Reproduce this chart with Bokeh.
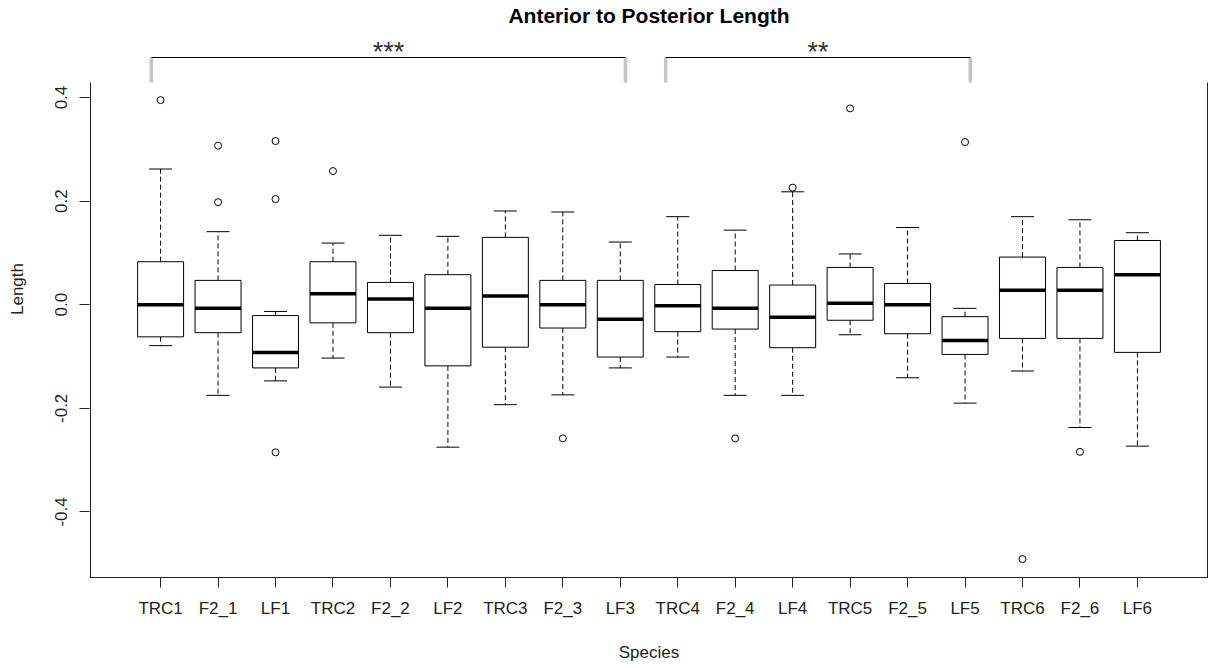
from bokeh.plotting import figure
from bokeh.models import Range1d, FixedTicker
from bokeh.core.properties import value
from bokeh.embed import file_html
from bokeh.resources import INLINE

# ---- data ----
categories = ["TRC1", "F2_1", "LF1", "TRC2", "F2_2", "LF2", "TRC3", "F2_3", "LF3",
              "TRC4", "F2_4", "LF4", "TRC5", "F2_5", "LF5", "TRC6", "F2_6", "LF6"]
whisker_low = [-0.079, -0.175, -0.147, -0.103, -0.159, -0.275, -0.193, -0.174, -0.122,
               -0.101, -0.175, -0.175, -0.058, -0.141, -0.190, -0.128, -0.237, -0.273]
q1 = [-0.062, -0.054, -0.122, -0.035, -0.054, -0.118, -0.082, -0.045, -0.101,
      -0.052, -0.047, -0.083, -0.030, -0.056, -0.096, -0.065, -0.065, -0.092]
medians = [0.000, -0.007, -0.092, 0.021, 0.011, -0.007, 0.017, 0.000, -0.028,
           -0.002, -0.007, -0.024, 0.003, 0.000, -0.069, 0.028, 0.028, 0.058]
q3 = [0.083, 0.047, -0.021, 0.083, 0.043, 0.058, 0.130, 0.047, 0.047,
      0.039, 0.066, 0.038, 0.072, 0.041, -0.023, 0.092, 0.072, 0.124]
whisker_high = [0.262, 0.141, -0.013, 0.119, 0.134, 0.132, 0.181, 0.179, 0.121,
                0.170, 0.144, 0.218, 0.098, 0.149, -0.007, 0.170, 0.164, 0.139]
outlier_group = ["TRC1", "F2_1", "F2_1", "LF1", "LF1", "LF1", "TRC2", "F2_3",
                 "F2_4", "LF4", "TRC5", "LF5", "TRC6", "F2_6"]
outlier_values = [0.395, 0.307, 0.198, 0.316, 0.204, -0.285, 0.258, -0.258,
                  -0.258, 0.226, 0.379, 0.314, -0.491, -0.284]
y_ticks = [-0.4, -0.2, 0.0, 0.2, 0.4]
y_tick_labels = ["-0.4", "-0.2", "0.0", "0.2", "0.4"]
bracket_start = [0.84, 9.79]
bracket_end = [9.09, 15.09]
bracket_labels = ["***", "**"]

title_text = "Anterior to Posterior Length"
x_label = "Species"
y_label = "Length"

# ---- geometry ----
FONT = "Liberation Sans"
n = len(categories)
xs = list(range(1, n + 1))
box_w = 0.8
cap_w = 0.4
x_lo, x_hi = 0.5 - 0.04 * n, n + 0.5 + 0.04 * n      # R style 4% extension
y_lo, y_hi_frame = -0.5266, 0.429
px_per_x = 57.46
px_per_y = 518.0
y_top = y_hi_frame + 82 / px_per_y                   # extend range up to canvas top

p = figure(width=1208, height=668, output_backend="svg", toolbar_location=None,
           x_range=Range1d(x_lo - 1 / px_per_x, x_lo + (1208 - 90) / px_per_x),
           y_range=Range1d(y_lo, y_top),
           min_border_left=89, min_border_right=0, min_border_top=0, min_border_bottom=91)
p.outline_line_color = None
p.grid.visible = False
p.background_fill_color = "white"

# axes
p.xaxis.ticker = FixedTicker(ticks=xs)
p.xaxis.major_label_overrides = {i: c for i, c in zip(xs, categories)}
p.yaxis.ticker = FixedTicker(ticks=y_ticks)
p.yaxis.major_label_overrides = {t: l for t, l in zip(y_ticks, y_tick_labels)}
p.yaxis.major_label_orientation = "vertical"
for ax in (p.xaxis, p.yaxis):
    ax.major_tick_in = 0
    ax.major_tick_out = 10
    ax.minor_tick_line_color = None
    ax.major_tick_line_color = "#222222"
    ax.major_label_text_font = FONT
    ax.major_label_text_font_size = "17px"
    ax.major_label_text_color = "#222222"
    ax.axis_label_text_font = FONT
    ax.axis_label_text_font_size = "17px"
    ax.axis_label_text_font_style = "normal"
    ax.axis_label_text_color = "#222222"
p.xaxis.axis_line_color = "#222222"
p.yaxis.axis_line_color = None
p.xaxis.major_label_standoff = 11
p.yaxis.major_label_standoff = 12
p.xaxis.axis_label = x_label
p.yaxis.axis_label = y_label
p.xaxis.axis_label_standoff = 22
p.yaxis.axis_label_standoff = 26

# left and right frame lines (no top border)
p.segment(x0=[x_lo, x_hi], y0=[y_lo, y_lo], x1=[x_lo, x_hi], y1=[y_hi_frame, y_hi_frame],
          line_color="#222222", line_width=1)

# whiskers
p.segment(x0=xs, y0=q3, x1=xs, y1=whisker_high, line_color="black", line_width=1, line_dash="5 3")
p.segment(x0=xs, y0=q1, x1=xs, y1=whisker_low, line_color="black", line_width=1, line_dash="5 3")
# staples
p.segment(x0=[x - cap_w / 2 for x in xs], y0=whisker_high, x1=[x + cap_w / 2 for x in xs],
          y1=whisker_high, line_color="black", line_width=1)
p.segment(x0=[x - cap_w / 2 for x in xs], y0=whisker_low, x1=[x + cap_w / 2 for x in xs],
          y1=whisker_low, line_color="black", line_width=1)
# boxes
p.quad(left=[x - box_w / 2 for x in xs], right=[x + box_w / 2 for x in xs],
       bottom=q1, top=q3, fill_color="white", line_color="black", line_width=1)
# medians
p.segment(x0=[x - box_w / 2 for x in xs], y0=medians, x1=[x + box_w / 2 for x in xs],
          y1=medians, line_color="black", line_width=3.5)
# outliers
ox = [categories.index(g) + 1 for g in outlier_group]
p.scatter(ox, outlier_values, marker="circle", size=7, fill_color=None,
          line_color="black", line_width=1)

# significance brackets
bracket_y = y_hi_frame + 25 / px_per_y
p.segment(x0=bracket_start + bracket_end, y0=[y_hi_frame] * 4,
          x1=bracket_start + bracket_end, y1=[bracket_y] * 4,
          line_color="#c4c4c4", line_width=3.5)
p.segment(x0=bracket_start, y0=[bracket_y] * 2, x1=bracket_end, y1=[bracket_y] * 2,
          line_color="black", line_width=1)
p.text(x=[(a + b) / 2 for a, b in zip(bracket_start, bracket_end)],
       y=[bracket_y + 5 / px_per_y] * 2, text=bracket_labels,
       text_font=value(FONT), text_font_size="27px", text_color="#333333",
       text_align="center", text_baseline="alphabetic")

# title
p.text(x=[(1 + n) / 2], y=[y_top - 15 / px_per_y], text=[title_text],
       text_font=value(FONT), text_font_size="21px", text_font_style="bold",
       text_color="black", text_align="center", text_baseline="middle")

open("out.html", "w").write(file_html(p, INLINE))
